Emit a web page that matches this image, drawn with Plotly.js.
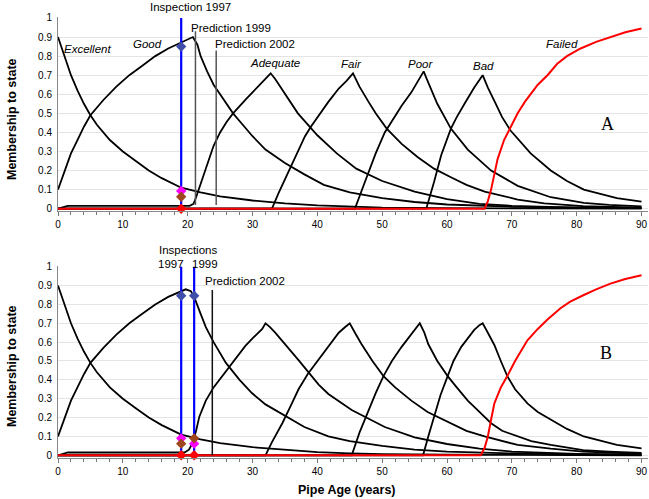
<!DOCTYPE html>
<html><head><meta charset="utf-8">
<script src="https://cdn.plot.ly/plotly-3.0.1.min.js"></script>
<style>html,body{margin:0;padding:0;background:#fff}#c{width:649px;height:499px}</style>
</head><body><div id="c"></div>
<script>
// ---------- Panel A data ----------
const excA_x = [0,1,2,3,4,5,6,8,10,12,14,16,19,22,25,30,35,40,45,50,60,70,90];
const excA_y = [0.9,0.8,0.7,0.62,0.55,0.49,0.44,0.36,0.3,0.25,0.2,0.16,0.11,0.085,0.065,0.043,0.028,0.017,0.01,0.006,0.003,0.001,0];
const goodA_x = [0,1,2,3,4,5,7,9,11,13,15,17,19,20,20.8,21.5,22,23,24,25,26,27,28,30,32,35,38,41,45,50,55,60,70,80,90];
const goodA_y = [0.1,0.2,0.29,0.36,0.43,0.49,0.57,0.64,0.7,0.75,0.8,0.84,0.87,0.885,0.9,0.86,0.8,0.72,0.65,0.6,0.55,0.5,0.46,0.38,0.31,0.24,0.18,0.125,0.085,0.055,0.035,0.022,0.01,0.005,0.003];
const adeqA_x = [0,1.5,20.3,20.9,21.3,21.7,22.3,23,24,25,26,27,28,29,30,31,32,32.8,33.5,35,37,40,43,46,50,55,60,65,70,80,90];
const adeqA_y = [0,0.015,0.015,0.025,0.06,0.1,0.16,0.23,0.33,0.4,0.455,0.5,0.54,0.575,0.61,0.645,0.68,0.71,0.68,0.6,0.5,0.385,0.29,0.21,0.145,0.09,0.05,0.025,0.015,0.006,0.003];
const fairA_x = [0,33,34,35.5,37,38.1,39,40.2,41.7,43.3,44.5,45.5,46.5,47.9,49,50.7,53,55.5,58,60.6,63,65.8,70.9,75,81,90];
const fairA_y = [0,0,0.08,0.19,0.3,0.38,0.43,0.49,0.56,0.63,0.67,0.71,0.64,0.56,0.5,0.42,0.34,0.27,0.21,0.165,0.125,0.09,0.048,0.028,0.013,0.006];
const poorA_x = [0,45.8,47,47.9,49,50.4,52,53,54.5,55.5,56.4,57,57.5,58.5,60.6,63.2,66.8,70.9,76,81.1,85,90];
const poorA_y = [0,0,0.11,0.19,0.29,0.4,0.49,0.54,0.61,0.665,0.72,0.67,0.63,0.55,0.42,0.31,0.2,0.12,0.06,0.03,0.02,0.012];
const badA_x = [0,56.8,58,59.1,60.6,61.5,62.7,64.2,65.5,66.3,67.3,68.5,69.8,71.3,72.9,76,78.5,81.1,86.2,90];
const badA_y = [0,0,0.14,0.28,0.42,0.48,0.55,0.635,0.7,0.635,0.565,0.48,0.41,0.35,0.29,0.2,0.145,0.1,0.055,0.037];
const failA_x = [0,65.8,66.3,66.8,67.3,67.8,68.8,69.8,70.9,72,72.9,74,75.5,77,78.5,80.6,83,85.2,87.5,90];
const failA_y = [0,0,0.04,0.1,0.18,0.26,0.36,0.43,0.5,0.56,0.6,0.65,0.7,0.76,0.8,0.84,0.875,0.9,0.925,0.945];
const inspA_x = [19];          // inspection 1997
const predA_x = [21.2, 24.4];  // prediction 1999, 2002
const predA_top = [0.93, 0.83];
const navyA_y = [0.85], magA_y = [0.093], brownA_y = [0.063], redA_y = [0];

// ---------- Panel B data ----------
const excB_x = [0,1,2,3,4,5,6,8,10,12,14,16,19,22,25,30,35,40,45,50,60,70,90];
const excB_y = [0.9,0.8,0.7,0.62,0.55,0.49,0.44,0.36,0.3,0.25,0.2,0.16,0.11,0.085,0.065,0.043,0.028,0.017,0.01,0.006,0.003,0.001,0];
const goodB_x = [0,1,2,3,4,5,7,9,11,13,15,17,18.5,19.7,20.5,21,22,22.8,24,25.9,28,29.9,32,35.1,38,41.7,45,50,55,60,70,80,90];
const goodB_y = [0.1,0.2,0.29,0.36,0.43,0.49,0.57,0.64,0.7,0.75,0.8,0.84,0.86,0.88,0.87,0.84,0.75,0.68,0.6,0.49,0.4,0.33,0.27,0.21,0.15,0.1,0.075,0.05,0.03,0.02,0.01,0.005,0.003];
const adeqB_x = [0,1.5,19.5,20.2,20.75,21,21.3,21.8,22.8,24,24.8,26,26.9,28,28.9,30,31.5,32,32.7,33.5,35,37.1,40.2,41.7,45.3,50.4,55,60,65,70,80,90];
const adeqB_y = [0,0.015,0.015,0.03,0.064,0.09,0.13,0.205,0.29,0.36,0.395,0.45,0.49,0.54,0.58,0.62,0.67,0.7,0.68,0.65,0.59,0.505,0.375,0.325,0.24,0.15,0.095,0.06,0.035,0.02,0.008,0.003];
const fairB_x = [0,32,33,34.6,36,37.1,38.5,40.2,41.7,43.3,44.3,45,45.8,46.8,48.5,50.2,52,54.5,57,60.6,63,65.8,70.9,76,81,90];
const fairB_y = [0,0,0.07,0.17,0.27,0.35,0.43,0.51,0.58,0.65,0.68,0.7,0.65,0.59,0.5,0.42,0.36,0.29,0.23,0.17,0.13,0.1,0.055,0.035,0.02,0.008];
const poorB_x = [0,45.3,46.5,47.9,49,50.2,51.5,53,54,55,55.8,56.5,57.1,58.5,60.1,61.5,63.2,65,66.8,68.5,70.9,73,76,81,85,90];
const poorB_y = [0,0,0.12,0.24,0.33,0.42,0.5,0.575,0.62,0.665,0.7,0.65,0.59,0.5,0.42,0.36,0.29,0.23,0.17,0.13,0.1,0.075,0.055,0.028,0.02,0.013];
const badB_x = [0,56.3,57.2,58.1,59,60.1,61,62.2,63.2,64.2,65,65.5,66.3,67.3,68.3,69.3,70.5,72.4,74,76,78.5,81.1,86.2,90];
const badB_y = [0,0,0.11,0.22,0.32,0.42,0.5,0.575,0.62,0.665,0.69,0.7,0.65,0.585,0.5,0.42,0.35,0.275,0.23,0.19,0.14,0.1,0.055,0.037];
const failB_x = [0,65.2,65.8,66.3,66.8,67.3,68.3,69.3,70.5,71.5,72.4,74,75.5,77.5,79,81.1,83,85.2,87.5,90];
const failB_y = [0,0,0.04,0.1,0.19,0.275,0.36,0.42,0.5,0.56,0.61,0.67,0.72,0.78,0.815,0.85,0.88,0.91,0.935,0.955];
const inspB_x = [19, 21];      // inspections 1997, 1999
const predB_x = [23.8];        // prediction 2002
const predB_top = [0.876];
const navyB_y = [0.846,0.846], magB_y = [0.09,0.062], brownB_y = [0.062,0.09], redB_y = [0,0];

const stateLabels = ['Excellent','Good','Adequate','Fair','Poor','Bad','Failed'];
const xTicks = [0,10,20,30,40,50,60,70,80,90];

// ---------- build ----------
const FONT = 'Arial, "Liberation Sans", sans-serif';
const W = 649, H = 499, ML = 58, MR = 1;
const PW = W - ML - MR;
const traces = [];
function curve(x,y,color,w,xa,ya){traces.push({x:x,y:y,mode:'lines',line:{color:color,width:w},xaxis:xa,yaxis:ya,hoverinfo:'skip'});}
function vline(xs,tops,color,w,xa,ya,bottom){
  xs.forEach((xv,i)=>traces.push({x:[xv,xv],y:[bottom,tops[i]],mode:'lines',line:{color:color,width:w},xaxis:xa,yaxis:ya,hoverinfo:'skip'}));
}
function marks(xs,ys,color,xa,ya){traces.push({x:xs,y:ys,mode:'markers',marker:{symbol:'diamond',size:8,color:color},xaxis:xa,yaxis:ya,cliponaxis:false,hoverinfo:'skip'});}

function panel(d,xa,ya){
  [[d.ex,d.ey],[d.gx,d.gy],[d.ax,d.ay],[d.fx,d.fy],[d.px,d.py],[d.bx,d.by]].forEach(c=>curve(c[0],c[1],'#000',1.8,xa,ya));
  curve(d.fax,d.fay,'#ff0000',2,xa,ya);
}
panel({ex:excA_x,ey:excA_y,gx:goodA_x,gy:goodA_y,ax:adeqA_x,ay:adeqA_y,fx:fairA_x,fy:fairA_y,px:poorA_x,py:poorA_y,bx:badA_x,by:badA_y,fax:failA_x,fay:failA_y},'x','y');
vline(predA_x,predA_top,'#555',1.5,'x','y',0.02);
vline(inspA_x,inspA_x.map(()=>1),'#0000ff',2.2,'x','y',0);
marks(inspA_x,navyA_y,'#3f4ea8','x','y');
marks(inspA_x,magA_y,'#ff00ff','x','y');
marks(inspA_x,brownA_y,'#a0461e','x','y');
marks(inspA_x,redA_y,'#ff0000','x','y');

panel({ex:excB_x,ey:excB_y,gx:goodB_x,gy:goodB_y,ax:adeqB_x,ay:adeqB_y,fx:fairB_x,fy:fairB_y,px:poorB_x,py:poorB_y,bx:badB_x,by:badB_y,fax:failB_x,fay:failB_y},'x2','y2');
vline(predB_x,predB_top,'#111',1.5,'x2','y2',0);
vline(inspB_x,inspB_x.map(()=>1),'#0000ff',2.2,'x2','y2',0);
marks(inspB_x,navyB_y,'#3f4ea8','x2','y2');
marks(inspB_x,magB_y,'#ff00ff','x2','y2');
marks(inspB_x,brownB_y,'#a0461e','x2','y2');
marks(inspB_x,redB_y,'#ff0000','x2','y2');

function xaxis(anchor){return {anchor:anchor,range:[0,91],domain:[0,1],tickvals:xTicks,ticktext:xTicks.map(String),
  ticks:'outside',ticklen:4,tickcolor:'#777',showline:true,linecolor:'#888',linewidth:1,showgrid:false,zeroline:false,
  minor:{ticks:'outside',tickvals:[2,4,6,8,12,14,16,18,22,24,26,28,32,34,36,38,42,44,46,48,52,54,56,58,62,64,66,68,72,74,76,78,82,84,86,88],ticklen:3,tickcolor:'#777',showgrid:false},
  ticklabeloverflow:'allow',
  tickfont:{family:FONT,size:10,color:'#000'},fixedrange:true};}
function yaxis(anchor,dom){return {anchor:anchor,domain:dom,range:[-0.012,1.003],tick0:0,dtick:0.1,ticks:'',ticklabelstandoff:3,
  showline:true,linecolor:'#888',linewidth:1,showgrid:true,gridcolor:'#e4e4e4',gridwidth:1,zeroline:false,
  tickfont:{family:FONT,size:10,color:'#000'},fixedrange:true};}

// pixel -> paper helpers (margins t=b=0)
const px = v => (v - ML) / PW;
const py = v => 1 - v / H;
function txt(x,y,t,opt){return Object.assign({x:px(x),y:py(y),text:t,xref:'paper',yref:'paper',showarrow:false,xanchor:'center',yanchor:'middle',
  font:{family:FONT,size:11.5,color:'#000'}},opt||{});}
const serif = {font:{family:'"Times New Roman","Liberation Serif",serif',size:18,color:'#000'}};
const ann = [
  txt(190,7.5,'Inspection 1997'),
  txt(189,28,'Prediction 1999',{xanchor:'left'}),
  txt(213,43.5,'Prediction 2002',{xanchor:'left'}),
  txt(87.5,49.3,'<i>'+stateLabels[0]+'</i>'),
  txt(147,44,'<i>'+stateLabels[1]+'</i>'),
  txt(275,63,'<i>'+stateLabels[2]+'</i>'),
  txt(351.7,64,'<i>'+stateLabels[3]+'</i>'),
  txt(420.5,64,'<i>'+stateLabels[4]+'</i>'),
  txt(483,66,'<i>'+stateLabels[5]+'</i>'),
  txt(562,44,'<i>'+stateLabels[6]+'</i>'),
  txt(607,124.5,'A',serif),
  txt(188,249.5,'Inspections'),
  txt(171,263.5,'1997'),
  txt(205,263.5,'1999'),
  txt(203,280.7,'Prediction 2002',{xanchor:'left'}),
  txt(606,353,'B',serif),
  txt(12,119,'<b>Membership to state</b>',{textangle:-90,font:{family:FONT,size:12.5,color:'#000'}}),
  txt(12,366,'<b>Membership to state</b>',{textangle:-90,font:{family:FONT,size:12.5,color:'#000'}}),
  txt(347,490,'<b>Pipe Age (years)</b>',{font:{family:FONT,size:12.5,color:'#000'}})
];

const layout = {
  width:W,height:H,margin:{l:ML,r:MR,t:0,b:0},paper_bgcolor:'#fff',plot_bgcolor:'#fff',showlegend:false,
  xaxis:xaxis('y'),yaxis:yaxis('x',[0.5772,0.9651]),
  xaxis2:xaxis('y2'),yaxis2:yaxis('x2',[0.0830,0.4667]),
  annotations:ann
};
Plotly.newPlot('c',traces,layout,{staticPlot:true,displayModeBar:false});
</script></body></html>
